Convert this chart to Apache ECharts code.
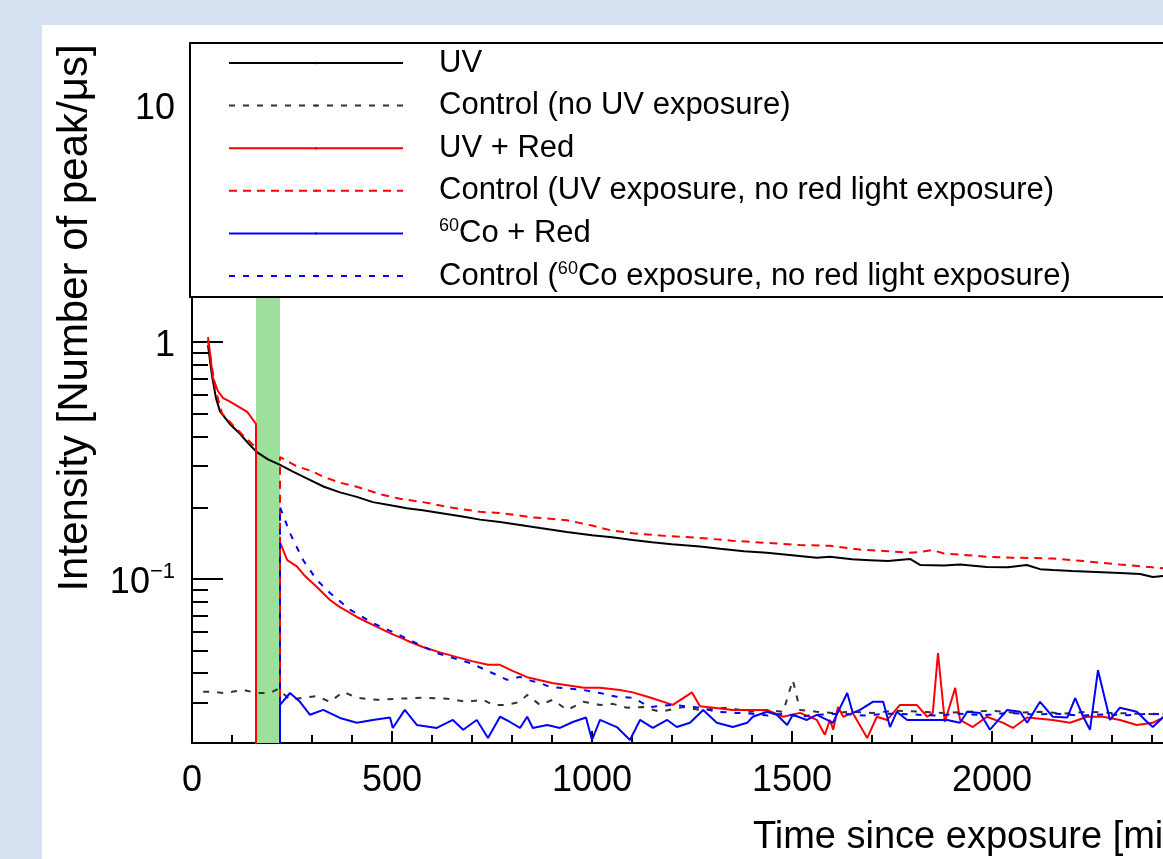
<!DOCTYPE html>
<html>
<head>
<meta charset="utf-8">
<script src="https://cdn.jsdelivr.net/npm/echarts@6/dist/echarts.min.js"></script>
<style>
html, body { margin: 0; padding: 0; background: #d5e0f1; }
#chart { width: 1163px; height: 859px; }
</style>
</head>
<body>
<div id="chart"></div>
<script>
// [time (min), intensity]; 0.001 = dropped to zero (below axis)
var uv = [[40,0.97],[50,0.72],[60,0.58],[70,0.51],[95,0.45],[120,0.41],[140,0.375],[162,0.343],[190,0.32],[220,0.303],[250,0.285],[288,0.265],[330,0.245],[370,0.232],[412,0.222],[452,0.211],[500,0.204],[537,0.199],[577,0.195],[620,0.19],[680,0.183],[720,0.178],[770,0.174],[820,0.169],[870,0.164],[937,0.158],[1000,0.153],[1050,0.15],[1102,0.146],[1150,0.143],[1200,0.14],[1270,0.137],[1320,0.134],[1380,0.131],[1437,0.129],[1500,0.126],[1562,0.123],[1595,0.124],[1650,0.121],[1695,0.12],[1740,0.119],[1795,0.1215],[1820,0.1146],[1880,0.114],[1920,0.115],[1987,0.1124],[2040,0.112],[2087,0.1146],[2120,0.11],[2152,0.109],[2200,0.108],[2260,0.107],[2320,0.106],[2370,0.105],[2402,0.102],[2427,0.103],[2460,0.101],[2500,0.1]];

var ctrlNoUv = [[28,0.0334],[50,0.0334],[78,0.033],[100,0.0334],[128,0.034],[162,0.033],[195,0.033],[215,0.0343],[245,0.0309],[278,0.0315],[312,0.032],[345,0.0303],[378,0.0334],[412,0.0315],[462,0.0309],[512,0.0312],[578,0.0315],[638,0.0312],[688,0.0303],[728,0.0309],[752,0.0294],[788,0.0294],[820,0.0303],[838,0.0324],[870,0.0294],[902,0.0309],[938,0.028],[978,0.0303],[1020,0.0294],[1052,0.0297],[1088,0.0286],[1128,0.0288],[1170,0.0275],[1228,0.0288],[1270,0.028],[1338,0.0286],[1395,0.0275],[1438,0.028],[1478,0.0275],[1502,0.0374],[1520,0.028],[1562,0.0275],[1600,0.0272],[1650,0.0275],[1700,0.0272],[1760,0.0278],[1820,0.0275],[1880,0.0272],[1940,0.0275],[2000,0.0278],[2060,0.0272],[2120,0.0275],[2180,0.027],[2240,0.0275],[2300,0.0272],[2360,0.027],[2420,0.0268],[2500,0.027]];

var uvRed = [[40,1.05],[45,0.9],[52,0.71],[65,0.62],[78,0.58],[95,0.56],[115,0.535],[138,0.507],[160,0.451],[160,0.001],[220,0.001],[220,0.143],[238,0.12],[262,0.113],[280,0.104],[312,0.0925],[345,0.0815],[370,0.076],[412,0.0691],[452,0.064],[495,0.0591],[537,0.055],[577,0.0516],[620,0.049],[660,0.0469],[700,0.045],[740,0.0434],[770,0.0434],[800,0.041],[838,0.0385],[900,0.0364],[980,0.0347],[1020,0.0347],[1070,0.034],[1102,0.0332],[1145,0.0316],[1202,0.0294],[1250,0.0332],[1270,0.029],[1310,0.0285],[1352,0.028],[1400,0.028],[1437,0.028],[1478,0.0262],[1520,0.0272],[1562,0.0254],[1582,0.022],[1595,0.0254],[1603,0.0231],[1615,0.0288],[1628,0.0262],[1652,0.0272],[1688,0.0213],[1712,0.0262],[1738,0.0254],[1770,0.0294],[1812,0.0294],[1838,0.0262],[1852,0.0272],[1865,0.0487],[1882,0.0249],[1908,0.0347],[1920,0.0254],[1952,0.0237],[1987,0.0262],[2028,0.0247],[2052,0.0235],[2088,0.026],[2152,0.0254],[2195,0.0247],[2238,0.0262],[2278,0.0262],[2320,0.0254],[2362,0.0242],[2402,0.0247],[2427,0.026],[2460,0.025],[2500,0.0245]];

var ctrlUv = [[40,1.02],[50,0.78],[60,0.62],[75,0.5],[100,0.45],[130,0.4],[155,0.365],[160,0.355],[160,0.001],[220,0.001],[220,0.327],[260,0.3],[300,0.285],[328,0.27],[370,0.255],[412,0.245],[470,0.228],[520,0.218],[577,0.211],[650,0.2],[720,0.192],[770,0.19],[850,0.182],[937,0.177],[1000,0.168],[1050,0.16],[1102,0.156],[1180,0.152],[1270,0.149],[1350,0.145],[1437,0.142],[1520,0.139],[1595,0.138],[1670,0.133],[1740,0.131],[1790,0.129],[1820,0.13],[1850,0.1325],[1880,0.128],[1940,0.126],[1987,0.124],[2050,0.123],[2152,0.122],[2230,0.119],[2320,0.115],[2400,0.112],[2427,0.111],[2500,0.108]];

var coRed = [[220,0.001],[220,0.0294],[245,0.033],[270,0.0303],[295,0.0267],[328,0.028],[370,0.0259],[412,0.0247],[452,0.0254],[495,0.026],[502,0.0235],[532,0.028],[562,0.0242],[612,0.0235],[652,0.0254],[678,0.0231],[712,0.0254],[740,0.0213],[770,0.0262],[795,0.0249],[820,0.0235],[838,0.0262],[852,0.0235],[888,0.0242],[920,0.0235],[952,0.0249],[985,0.026],[1000,0.0209],[1020,0.0254],[1062,0.0237],[1095,0.0209],[1120,0.0254],[1152,0.0235],[1188,0.0254],[1212,0.0237],[1245,0.0247],[1278,0.028],[1312,0.0247],[1352,0.0237],[1388,0.0247],[1402,0.0262],[1438,0.0275],[1462,0.0267],[1488,0.0242],[1502,0.0267],[1537,0.0254],[1562,0.0267],[1588,0.0254],[1602,0.0247],[1638,0.033],[1652,0.0272],[1670,0.028],[1702,0.0303],[1728,0.0303],[1745,0.0237],[1762,0.0275],[1788,0.0254],[1820,0.0254],[1852,0.0254],[1888,0.0254],[1920,0.0247],[1938,0.0275],[1970,0.0272],[1995,0.0231],[2038,0.028],[2070,0.0275],[2088,0.0247],[2120,0.0303],[2152,0.0262],[2188,0.026],[2208,0.0314],[2228,0.0262],[2245,0.0231],[2265,0.0412],[2295,0.0254],[2320,0.0286],[2362,0.0275],[2388,0.0249],[2402,0.0237],[2427,0.026],[2460,0.025],[2500,0.0255]];

var ctrlCo = [[220,0.001],[220,0.201],[245,0.156],[278,0.12],[312,0.099],[345,0.0873],[395,0.0742],[452,0.0652],[528,0.0569],[612,0.0487],[695,0.0442],[745,0.0405],[788,0.0375],[820,0.0386],[838,0.0375],[870,0.0364],[895,0.035],[978,0.034],[1020,0.033],[1062,0.0318],[1102,0.0315],[1145,0.0288],[1202,0.0294],[1270,0.0286],[1312,0.0275],[1360,0.0272],[1400,0.027],[1440,0.0265],[1480,0.027],[1520,0.0262],[1560,0.0267],[1620,0.027],[1680,0.0265],[1740,0.027],[1800,0.0268],[1860,0.0265],[1920,0.027],[1980,0.0266],[2040,0.0272],[2100,0.0268],[2160,0.027],[2220,0.0265],[2280,0.0268],[2340,0.0266],[2400,0.027],[2460,0.0265],[2500,0.0268]];

var seriesNames = ['UV', 'Control (no UV exposure)', 'UV + Red',
    'Control (UV exposure, no red light exposure)', '60Co + Red',
    'Control (60Co exposure, no red light exposure)'];
var redWindow = [160, 220];           // red light exposure band
var yMajorTicks = [0.1, 1, 10];
var yTickText = ['10{sup|\u22121}', '1', '10'];
var yMinorTicks = [0.03,0.04,0.05,0.06,0.07,0.08,0.09,0.2,0.3,0.4,0.5,0.6,0.7,0.8,0.9,2,3,4,5,6,7,8,9];

var font = 'Liberation Sans, Arial, Helvetica, sans-serif';
var chart = echarts.init(document.getElementById('chart'));

function line(name, data, color, type) {
    return {
        name: name, type: 'line', data: data, symbol: 'none', clip: true,
        lineStyle: { color: color, width: 2, type: type },
        itemStyle: { color: color }
    };
}

var option = {
    backgroundColor: '#d5e0f1',
    animation: false,
    textStyle: { fontFamily: font },
    graphic: [
        { type: 'rect', z: -10, silent: true, shape: { x: 42, y: 25, width: 1200, height: 900 }, style: { fill: '#fff' } },
        { type: 'text', z: 10, x: 75, y: 318, rotation: Math.PI / 2,
          style: { text: 'Intensity [Number of peak/\u03bcs]', font: '42px ' + font, fill: '#000', align: 'center', verticalAlign: 'middle' } },
        { type: 'text', z: 10, x: 1195, y: 838,
          style: { text: 'Time since exposure [min]', font: '38px ' + font, fill: '#000', align: 'right', verticalAlign: 'middle' } }
    ],
    grid: { left: 192, top: 43, right: -29, bottom: 116, containLabel: false, outerBoundsMode: 'none' },
    legend: {
        data: seriesNames,
        orient: 'vertical',
        left: 190, top: 43,
        padding: [4, 200, 5, 38],
        backgroundColor: '#fff',
        borderColor: '#000', borderWidth: 2,
        itemWidth: 174, itemHeight: 3, itemGap: 10.6,
        formatter: function (n) { return n.replace('60Co', '{sup|60}Co'); },
        textStyle: {
            fontSize: 31, lineHeight: 32, color: '#000', padding: [0, 0, 0, 31],
            rich: { sup: { fontSize: 18, lineHeight: 18, verticalAlign: 'top', color: '#000' } }
        }
    },
    xAxis: {
        type: 'value', min: 0, max: 2500, interval: 500,
        axisLine: { lineStyle: { color: '#000', width: 2 } },
        axisTick: { inside: true, length: 12, lineStyle: { color: '#000', width: 2 } },
        minorTick: { show: true, splitNumber: 5, length: 8, lineStyle: { color: '#000', width: 2 } },
        splitLine: { show: false },
        axisLabel: { fontSize: 36, color: '#000', margin: 20, showMaxLabel: false,
                     formatter: function (v) { return String(v); } }
    },
    yAxis: [{
        type: 'log', logBase: 10, min: 0.0203, max: 18.3,
        axisLine: { show: true, lineStyle: { color: '#000', width: 2 } },
        axisTick: { inside: true, length: 31, customValues: yMajorTicks, lineStyle: { color: '#000', width: 2 } },
        splitLine: { show: false },
        axisLabel: {
            customValues: yMajorTicks, fontSize: 36, color: '#000', margin: 17, lineHeight: 44,
            padding: [8, 0, 0, 0],
            formatter: function (v) {
                var i = yMajorTicks.indexOf(+v);
                return i < 0 ? '' : yTickText[i];
            },
            rich: { sup: { fontSize: 22, lineHeight: 22, verticalAlign: 'top', color: '#000' } }
        }
    }, {
        type: 'log', logBase: 10, min: 0.0203, max: 18.3, position: 'left',
        axisLine: { show: false },
        axisTick: { inside: true, length: 16, customValues: yMinorTicks, lineStyle: { color: '#000', width: 2 } },
        axisLabel: { show: false },
        splitLine: { show: false }
    }],
    series: [
        { type: 'line', data: [], silent: true,
          markArea: { silent: true, itemStyle: { color: '#9de09b' },
                      data: [[{ xAxis: redWindow[0] }, { xAxis: redWindow[1] }]] } },
        line(seriesNames[0], uv, '#000', 'solid'),
        line(seriesNames[1], ctrlNoUv, '#333', [6, 8]),
        line(seriesNames[2], uvRed, '#ff0000', 'solid'),
        line(seriesNames[3], ctrlUv, '#ff0000', [8, 6]),
        line(seriesNames[4], coRed, '#0000ff', 'solid'),
        line(seriesNames[5], ctrlCo, '#0000ff', [6, 8])
    ]
};
chart.setOption(option);
</script>
</body>
</html>
